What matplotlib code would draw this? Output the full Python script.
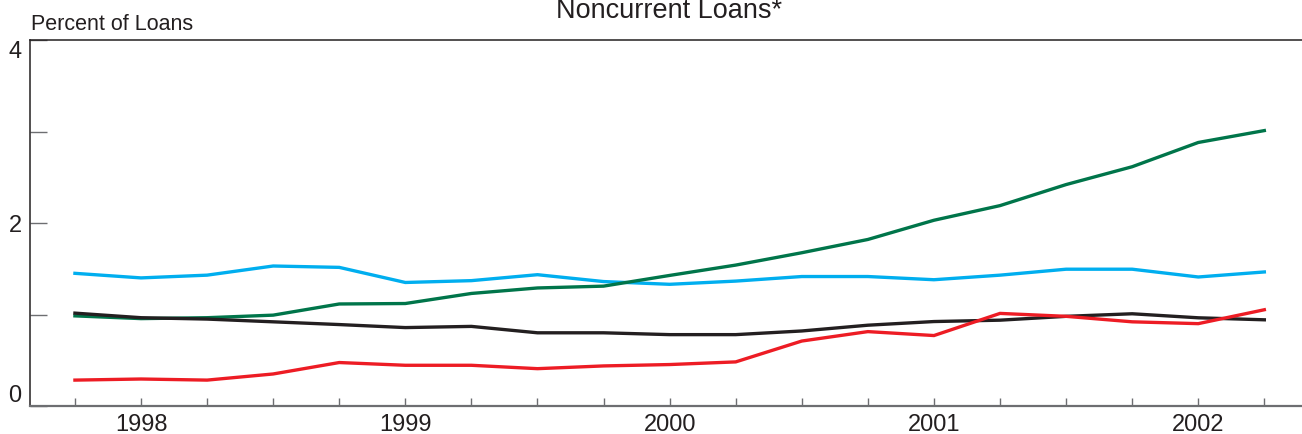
import numpy as np
import matplotlib
matplotlib.use("Agg")
import matplotlib.pyplot as plt

plt.rcParams['font.family'] = ['Liberation Sans', 'DejaVu Sans']

# quarterly points, 1997 Q4 .. 2002 Q2
quarters = np.arange(19)
year_pos = [1, 5, 9, 13, 17]
year_labels = ['1998', '1999', '2000', '2001', '2002']
year_breaks = [3, 7, 11, 15]

cyan = [1.45, 1.40, 1.43, 1.53, 1.515, 1.35, 1.37, 1.435, 1.36, 1.33,
        1.365, 1.415, 1.415, 1.38, 1.43, 1.495, 1.495, 1.41, 1.465]
green = [0.985, 0.955, 0.965, 0.993, 1.115, 1.12, 1.23, 1.29, 1.31, 1.427,
         1.54, 1.675, 1.82, 2.03, 2.19, 2.42, 2.615, 2.88, 3.01]
black = [1.015, 0.965, 0.95, 0.92, 0.89, 0.857, 0.87, 0.80, 0.80, 0.78,
         0.78, 0.82, 0.883, 0.923, 0.938, 0.98, 1.008, 0.964, 0.942]
red = [0.283, 0.295, 0.283, 0.35, 0.475, 0.445, 0.445, 0.408, 0.438, 0.453,
       0.482, 0.71, 0.813, 0.77, 1.012, 0.98, 0.92, 0.90, 1.052]

txt = '#231f20'

fig = plt.figure(figsize=(13.02, 4.35), dpi=100)
ax = fig.add_axes([30/1302, 1 - 407/435, 1 - 30/1302, (407 - 41)/435])

ax.plot(quarters, cyan, color='#00aeef', lw=2.4, solid_joinstyle='miter')
ax.plot(quarters, green, color='#00754a', lw=2.4, solid_joinstyle='miter')
ax.plot(quarters, black, color='#231f20', lw=2.4, solid_joinstyle='miter')
ax.plot(quarters, red, color='#ed1c24', lw=2.4, solid_joinstyle='miter')

ax.set_xlim(-0.68, 18.57)
ax.set_ylim(0, 4)

# x axis: small ticks every quarter, taller ticks at year breaks
ax.set_xticks(quarters)
ax.set_xticklabels([year_labels[year_pos.index(q)] if q in year_pos else '' for q in quarters])
ax.set_xticks(year_breaks, minor=True)
ax.tick_params(axis='x', which='major', direction='in', length=6, width=1,
               color='#6d6e71', labelsize=17, labelcolor=txt, pad=5)
ax.tick_params(axis='x', which='minor', direction='in', length=12.5, width=1,
               color='#6d6e71')

ax.set_yticks([0, 1, 2, 3, 4])
ax.set_yticklabels(['0', '', '2', '', '4'])
ax.tick_params(axis='y', direction='in', length=12.5, width=1, color='#6d6e71',
               labelsize=17, labelcolor=txt, pad=6)
ylabs = ax.get_yticklabels()
ylabs[0].set_va('bottom')
ylabs[4].set_va('top')

ax.spines['right'].set_visible(False)
ax.spines['top'].set_linewidth(1.1)
ax.spines['top'].set_color(txt)
ax.spines['left'].set_linewidth(1.1)
ax.spines['left'].set_color(txt)
ax.spines['bottom'].set_linewidth(1.6)
ax.spines['bottom'].set_color('#6d6e71')

fig.text(669/1302, 1 - 18/435, 'Noncurrent Loans*', ha='center', va='baseline',
         fontsize=19.5, color=txt)
fig.text(31/1302, 1 - 30/435, 'Percent of Loans', ha='left', va='baseline',
         fontsize=15.5, color=txt)

fig.savefig('out.png', dpi=100)
